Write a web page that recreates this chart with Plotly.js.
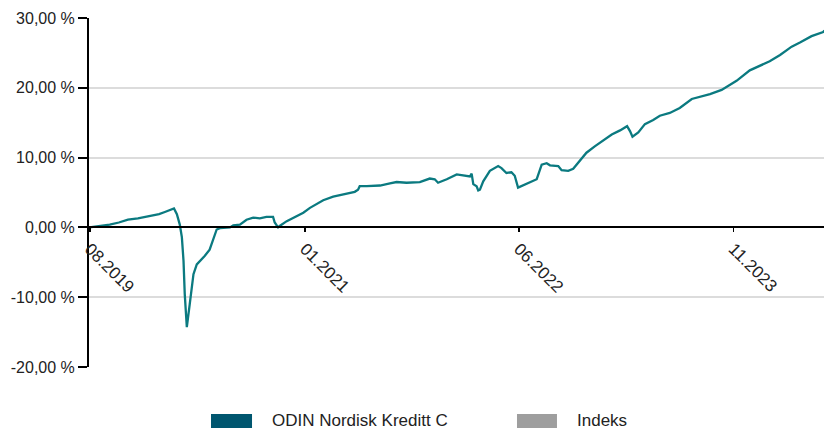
<!DOCTYPE html>
<html>
<head>
<meta charset="utf-8">
<script src="https://cdn.plot.ly/plotly-3.0.1.min.js"></script>
<style>
  html, body { margin: 0; padding: 0; background: #fff; }
  #chart { width: 824px; height: 432px; }
</style>
</head>
<body>
<div id="chart"></div>
<script>
// Series: ODIN Nordisk Kreditt C (cumulative return, %)
const dates = [
  '2019-07-31','2019-08-20','2019-09-18','2019-10-10','2019-11-01','2019-11-25','2019-12-26',
  '2020-01-15','2020-01-29','2020-02-15','2020-02-20','2020-02-27','2020-03-05','2020-03-10',
  '2020-03-14','2020-03-17','2020-03-22','2020-03-29','2020-04-03','2020-04-07','2020-04-15',
  '2020-04-22','2020-05-04','2020-05-16','2020-05-24','2020-06-02','2020-06-10','2020-07-04',
  '2020-07-12','2020-07-28','2020-08-13','2020-08-29','2020-09-14','2020-09-30','2020-10-16',
  '2020-10-20','2020-10-28','2020-11-01','2020-11-18','2020-12-12','2020-12-28','2021-01-13',
  '2021-01-29','2021-02-14','2021-03-10','2021-04-03','2021-05-01','2021-05-09','2021-05-13',
  '2021-05-30','2021-07-01','2021-07-25','2021-08-10','2021-09-03','2021-10-05','2021-10-29',
  '2021-11-10','2021-11-18','2021-12-09','2022-01-02','2022-01-18','2022-02-03','2022-02-07',
  '2022-02-11','2022-02-19','2022-02-23','2022-02-27','2022-03-07','2022-03-23','2022-04-12',
  '2022-04-20','2022-05-02','2022-05-14','2022-05-22','2022-05-30','2022-06-11','2022-06-28',
  '2022-07-14','2022-07-26','2022-08-07','2022-08-15','2022-08-27','2022-09-04','2022-09-12',
  '2022-09-28','2022-10-10','2022-10-26','2022-11-11','2022-12-01','2022-12-21','2023-01-11',
  '2023-01-31','2023-02-17','2023-02-24','2023-03-02','2023-03-16','2023-04-01','2023-04-21',
  '2023-05-07','2023-05-31','2023-06-24','2023-07-23','2023-08-12','2023-09-05','2023-10-03',
  '2023-11-08','2023-12-10','2024-01-03','2024-01-27','2024-02-21','2024-03-20','2024-04-09',
  '2024-05-07','2024-06-04','2024-06-07'
];
const odinValues = [
  0.0, 0.15, 0.4, 0.7, 1.1, 1.3, 1.6,
  1.9, 2.2, 2.6, 2.7, 1.9, 0.4, -1.4,
  -4.8, -9.6, -14.3, -11.0, -8.6, -6.7, -5.3,
  -4.9, -4.1, -3.2, -1.8, -0.3, -0.1, 0.0,
  0.3, 0.4, 1.1, 1.4, 1.3, 1.5, 1.5,
  0.7, 0.0, 0.2, 0.9, 1.6, 2.1, 2.8,
  3.4, 3.9, 4.4, 4.7, 5.1, 5.4, 5.9,
  5.9, 6.0, 6.3, 6.5, 6.4, 6.5, 7.0,
  6.9, 6.4, 6.9, 7.6, 7.4, 7.3, 7.7,
  6.2, 5.9, 5.3, 5.4, 6.6, 8.1, 8.8,
  8.5, 7.8, 7.9, 7.4, 5.7, 6.0, 6.4,
  6.9, 9.0, 9.2, 8.9, 8.8, 8.8, 8.2,
  8.1, 8.4, 9.5, 10.7, 11.6, 12.4, 13.3,
  13.9, 14.5, 13.8, 13.0, 13.6, 14.8, 15.4,
  16.0, 16.4, 17.1, 18.4, 18.7, 19.1, 19.7,
  21.0, 22.5, 23.2, 23.8, 24.7, 25.9, 26.5,
  27.4, 28.0, 28.2
];
const seriesNames = ['ODIN Nordisk Kreditt C', 'Indeks'];
const xTickVals = ['2019-08-01', '2021-01-01', '2022-06-01', '2023-11-01'];
const yTickVals = [-20, -10, 0, 10, 20, 30];
const yTickText = yTickVals.map(v => v.toFixed(2).replace('.', ',') + ' %');

const lineColor = '#0b7a80';
const legendColors = ['#00566f', '#9e9e9e'];
const fontFamily = '"Liberation Sans", Arial, sans-serif';

const traces = [{
  type: 'scatter',
  mode: 'lines',
  x: dates,
  y: odinValues,
  name: seriesNames[0],
  line: { color: lineColor, width: 2.3 },
  showlegend: false,
  hoverinfo: 'skip'
}];

// manual legend (wide rectangular swatches)
const legendX = [[0.166, 0.2218], [0.5823, 0.6367]];
const shapes = legendX.map((lx, i) => ({
  type: 'rect', xref: 'paper', yref: 'paper',
  x0: lx[0], x1: lx[1], y0: -0.1748, y1: -0.1347,
  fillcolor: legendColors[i], line: { width: 0 }
}));
const annotations = legendX.map((lx, i) => ({
  xref: 'paper', yref: 'paper', x: lx[1] + 0.024, y: -0.1547,
  xanchor: 'left', yanchor: 'middle', showarrow: false,
  text: seriesNames[i],
  font: { family: fontFamily, size: 17, color: '#222' }
}));

const layout = {
  width: 824, height: 432,
  margin: { l: 89, r: 0, t: 18, b: 65 },
  paper_bgcolor: '#fff', plot_bgcolor: '#fff',
  showlegend: false,
  font: { family: fontFamily, color: '#222' },
  xaxis: {
    type: 'date',
    range: ['2019-07-30', '2024-06-06'],
    anchor: 'free', position: 0.4,
    tickvals: xTickVals,
    tickformat: '%m.%Y',
    tickangle: 45,
    ticks: 'outside', ticklen: 4, tickwidth: 1.5, tickcolor: '#000',
    showline: true, linecolor: '#000', linewidth: 2,
    showgrid: false, zeroline: false,
    tickfont: { family: fontFamily, size: 17, color: '#222' }
  },
  yaxis: {
    range: [-20, 30],
    tickvals: yTickVals,
    ticktext: yTickText,
    ticks: 'outside', ticklen: 9, tickwidth: 2, tickcolor: '#000',
    showline: true, linecolor: '#000', linewidth: 2,
    showgrid: true, gridcolor: '#dcdcdc', gridwidth: 2,
    zeroline: false,
    tickfont: { family: fontFamily, size: 16, color: '#222' }
  },
  shapes: shapes,
  annotations: annotations
};

Plotly.newPlot('chart', traces, layout, { displayModeBar: false, staticPlot: true });
</script>
</body>
</html>
